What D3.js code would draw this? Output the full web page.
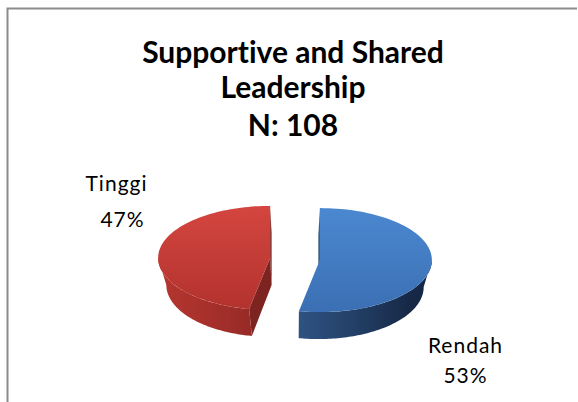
<!DOCTYPE html>
<html><head><meta charset="utf-8">
<script src="https://cdn.jsdelivr.net/npm/d3@7"></script>
<style>body{margin:0;background:#fff;} svg{display:block;} text{font-variant-ligatures:none;font-feature-settings:"liga" 0;}</style>
</head><body>
<script>
// ---- data ----
const categories = ["Rendah", "Tinggi"];
const values = [53, 47];
const percentLabels = ["53%", "47%"];
const titleLines = ["Supportive and Shared", "Leadership", "N: 108"];

// ---- layout / style ----
const W = 578, H = 402;
const cx = 295, cy = 259, rx = 112, ry = 52, depth = 27, explode = 25, persp = 0.94;
const palette = {
  Rendah: { top0: "#4b88d0", top1: "#3b6fb3", light: [58, 104, 160], dark: [22, 40, 70], radial: "#24466f" },
  Tinggi: { top0: "#d4463f", top1: "#b3322e", light: [178, 52, 47], dark: [100, 25, 22], radial: "#7d2420" }
};
const labelLayout = {
  Rendah: { name: [465.5, 353], pct: [465.5, 383] },
  Tinggi: { name: [116.5, 191], pct: [122.5, 227] }
};
const light = [-0.958, 0.287];

const svg = d3.select("body").append("svg").attr("width", W).attr("height", H);
const defs = svg.append("defs");

// frame
svg.append("path").attr("d", `M7.5,${H} V8.5 H577`)
  .attr("fill", "none").attr("stroke", "#8c8c8c").attr("stroke-width", 2);

// title
const title = svg.append("text").attr("text-anchor", "middle")
  .attr("font-family", "Lato, 'Open Sans', sans-serif").attr("font-weight", "bold")
  .attr("font-size", 30).attr("fill", "#000");
const titleY = [63, 98, 136];
titleLines.forEach((t, i) => title.append("tspan").attr("x", 293).attr("y", titleY[i]).text(t));

// pie
const arcs = d3.pie().sort(null).value(d => d)(values);
const pieG = svg.append("g");

function mix(a, b, t) {
  return `rgb(${a.map((v, i) => Math.round(v + (b[i] - v) * t)).join(",")})`;
}
const line = d3.line();

arcs.forEach((a, i) => {
  const cat = categories[i];
  const pal = palette[cat];
  const mid = (a.startAngle + a.endAngle) / 2;
  const ocx = cx + explode * Math.sin(mid);
  const ocy = cy - explode * Math.cos(mid) * ry / rx;
  const P = ang => [ocx + rx * Math.sin(ang), ocy - ry * Math.cos(ang)];
  const B = p => [cx + (p[0] - cx) * persp, p[1] + depth];
  const C = [ocx, ocy];
  const g = pieG.append("g");

  // radial cut faces (start & end), drawn if facing the viewer
  [[C, P(a.startAngle)], [P(a.endAngle), C]].forEach(([q0, q1]) => {
    const quad = [q0, q1, B(q1), B(q0)];
    let s = 0;
    for (let j = 0; j < 4; j++) { const p = quad[j], q = quad[(j + 1) % 4]; s += p[0] * q[1] - q[0] * p[1]; }
    if (s < -1e-6) g.append("path").attr("d", line(quad) + "Z").attr("fill", pal.radial);
  });

  // front outer wall: visible part of arc within [PI/2, 3PI/2]
  const f0 = Math.max(a.startAngle, Math.PI / 2), f1 = Math.min(a.endAngle, 3 * Math.PI / 2);
  if (f1 > f0) {
    const N = 80;
    const angs = d3.range(N + 1).map(k => f0 + (f1 - f0) * k / N);
    const topPts = angs.map(P), botPts = topPts.map(B);
    const gid = "wall" + i;
    const xs = topPts.map(p => p[0]);
    const xmin = d3.min(xs), xmax = d3.max(xs);
    const gr = defs.append("linearGradient").attr("id", gid).attr("gradientUnits", "userSpaceOnUse")
      .attr("x1", xmin).attr("y1", 0).attr("x2", xmax).attr("y2", 0);
    const stops = angs.map((ang, k) => {
      const n = [Math.sin(ang), -Math.cos(ang)];
      const dot = n[0] * light[0] + n[1] * light[1];
      const t = Math.max(0, Math.min(1, (dot + 0.6) / 1.6));
      return { off: (xs[k] - xmin) / (xmax - xmin || 1), color: mix(pal.dark, pal.light, t) };
    }).sort((p, q) => p.off - q.off);
    gr.selectAll("stop").data(stops).join("stop")
      .attr("offset", d => d.off).attr("stop-color", d => d.color);
    g.append("path").attr("d", line([...topPts, ...botPts.reverse()]) + "Z")
      .attr("fill", `url(#${gid})`);
  }

  // top face
  const Nt = 90;
  const loop = [C, ...d3.range(Nt + 1).map(k => P(a.startAngle + (a.endAngle - a.startAngle) * k / Nt))];
  const tid = "top" + i;
  const tg = defs.append("linearGradient").attr("id", tid).attr("x1", 0).attr("y1", 0).attr("x2", 0).attr("y2", 1);
  tg.append("stop").attr("offset", "0%").attr("stop-color", pal.top0);
  tg.append("stop").attr("offset", "100%").attr("stop-color", pal.top1);
  g.append("path").attr("d", line(loop) + "Z").attr("fill", `url(#${tid})`);

  // labels
  const L = labelLayout[cat];
  const lab = svg.append("g").attr("font-family", "Lato, 'Open Sans', sans-serif")
    .attr("font-size", 21).attr("fill", "#000").attr("text-anchor", "middle").attr("letter-spacing", 1);
  lab.append("text").attr("x", L.name[0]).attr("y", L.name[1]).text(cat);
  lab.append("text").attr("x", L.pct[0]).attr("y", L.pct[1]).text(percentLabels[i]);
});
</script>
</body></html>
